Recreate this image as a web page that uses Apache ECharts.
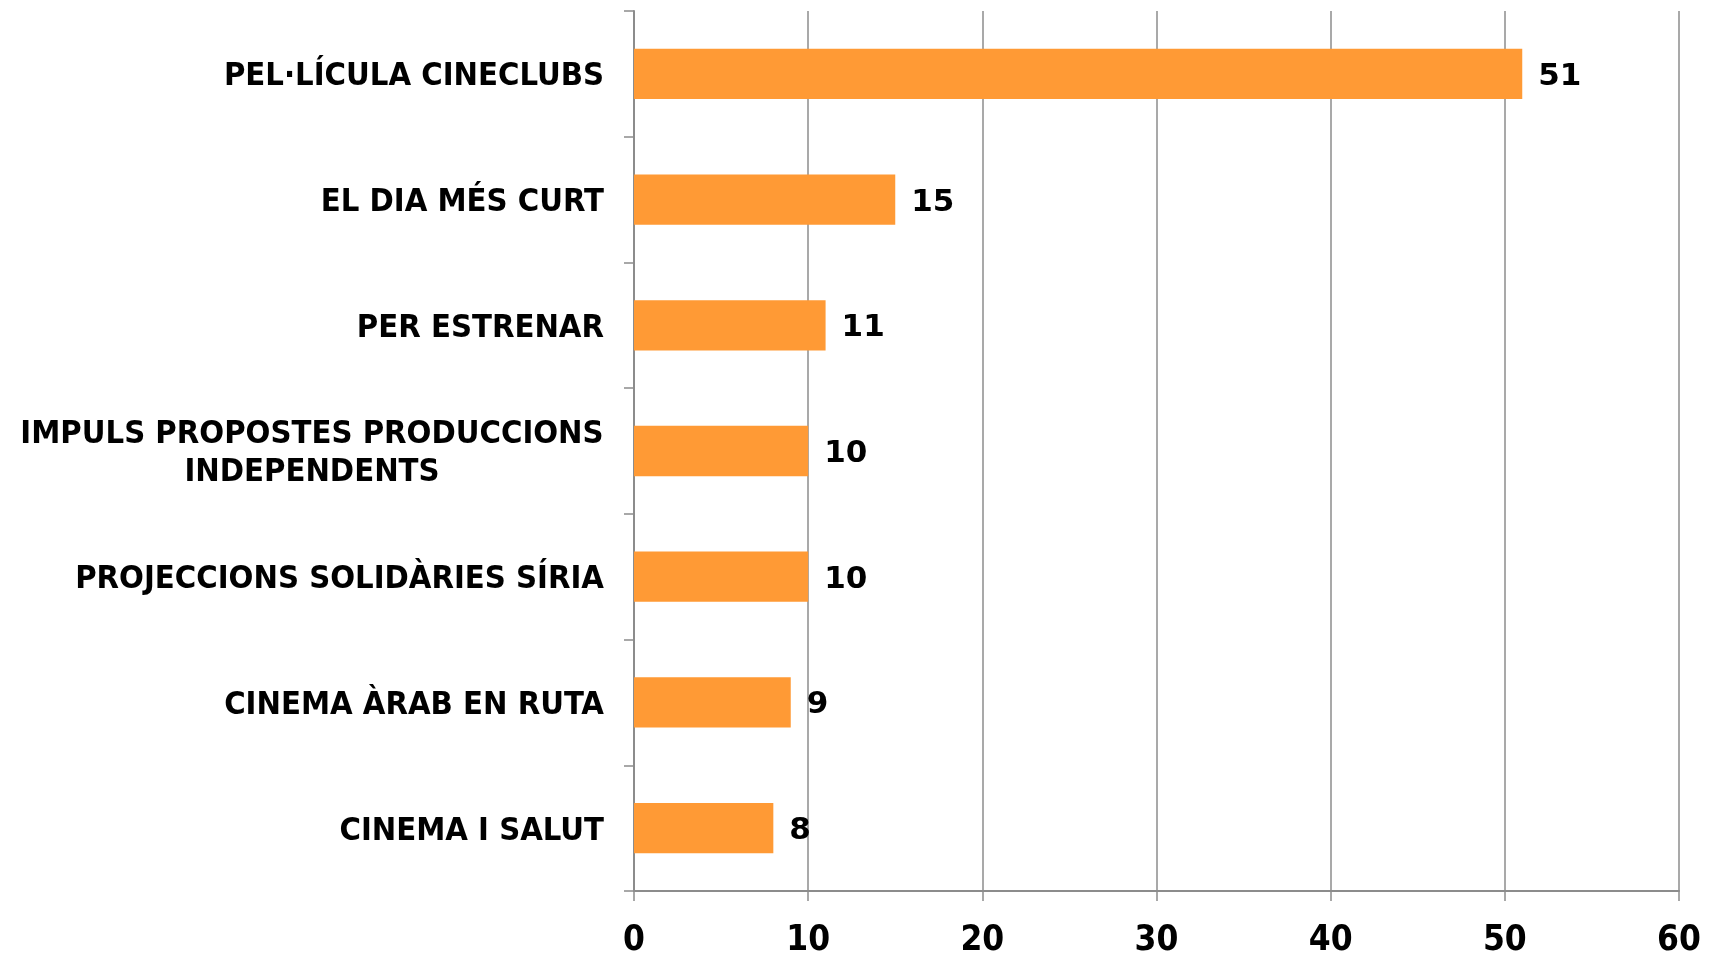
<!DOCTYPE html>
<html>
<head>
<meta charset="utf-8">
<script src="https://cdn.jsdelivr.net/npm/echarts@6/dist/echarts.min.js"></script>
<style>
  html, body { margin: 0; padding: 0; background: #fff; }
  #chart { width: 1709px; height: 957px; }
</style>
</head>
<body>
<div id="chart"></div>
<script>
// data
const categories = [
  'PEL·LÍCULA CINECLUBS',
  'EL DIA MÉS CURT',
  'PER ESTRENAR',
  'IMPULS PROPOSTES PRODUCCIONS\nINDEPENDENTS',
  'PROJECCIONS SOLIDÀRIES SÍRIA',
  'CINEMA ÀRAB EN RUTA',
  'CINEMA I SALUT'
]
const values = [51, 15, 11, 10, 10, 9, 8]
const xTicks = [0, 10, 20, 30, 40, 50, 60]

const fam = '"DejaVu Sans", sans-serif'
const famCond = '"DejaVu Sans Condensed", "DejaVu Sans", sans-serif'
const labelFont = 'bold 32.5px ' + famCond

// width of the longest line, so two-line labels are centred like the original
function lineWidth(txt) {
  const ctx = document.createElement('canvas').getContext('2d')
  ctx.font = labelFont
  return Math.ceil(ctx.measureText(txt).width)
}

const chart = echarts.init(document.getElementById('chart'))

chart.setOption({
  animation: false,
  grid: {
    left: 634,
    right: 30,
    top: 11,
    bottom: 66,
    containLabel: false,
    outerBoundsMode: 'none'
  },
  xAxis: {
    type: 'value',
    min: xTicks[0],
    max: xTicks[xTicks.length - 1],
    interval: 10,
    axisLine: { show: true, lineStyle: { color: '#8c8c8c', width: 2 } },
    axisTick: { show: true, length: 10, lineStyle: { color: '#8c8c8c', width: 1.5 } },
    splitLine: { show: true, lineStyle: { color: '#8c8c8c', width: 1.5 } },
    axisLabel: {
      margin: 32,
      color: '#000',
      fontSize: 35,
      fontWeight: 'bold',
      fontFamily: famCond
    }
  },
  yAxis: {
    type: 'category',
    inverse: true,
    data: categories,
    axisLine: { show: true, lineStyle: { color: '#8c8c8c', width: 2 } },
    axisTick: { show: true, length: 10, lineStyle: { color: '#8c8c8c', width: 1.5 } },
    axisLabel: {
      margin: 30,
      padding: [6, 0, 0, 0],
      color: '#000',
      fontSize: 32.5,
      fontWeight: 'bold',
      lineHeight: 38,
      fontFamily: famCond,
      formatter: function (val) {
        if (val.indexOf('\n') < 0) return val
        return val.split('\n').map(l => '{c|' + l + '}').join('\n')
      },
      rich: {
        c: {
          width: lineWidth('IMPULS PROPOSTES PRODUCCIONS'),
          align: 'center',
          color: '#000',
          fontSize: 32.5,
          fontWeight: 'bold',
          lineHeight: 38,
          fontFamily: famCond
        }
      }
    }
  },
  series: [{
    type: 'bar',
    data: values,
    barWidth: '40%',
    itemStyle: { color: '#ff9a35' },
    label: {
      show: true,
      position: 'right',
      distance: 16,
      offset: [0, 3],
      color: '#000',
      fontSize: 31,
      fontWeight: 'bold',
      fontFamily: fam
    }
  }]
})
</script>
</body>
</html>
